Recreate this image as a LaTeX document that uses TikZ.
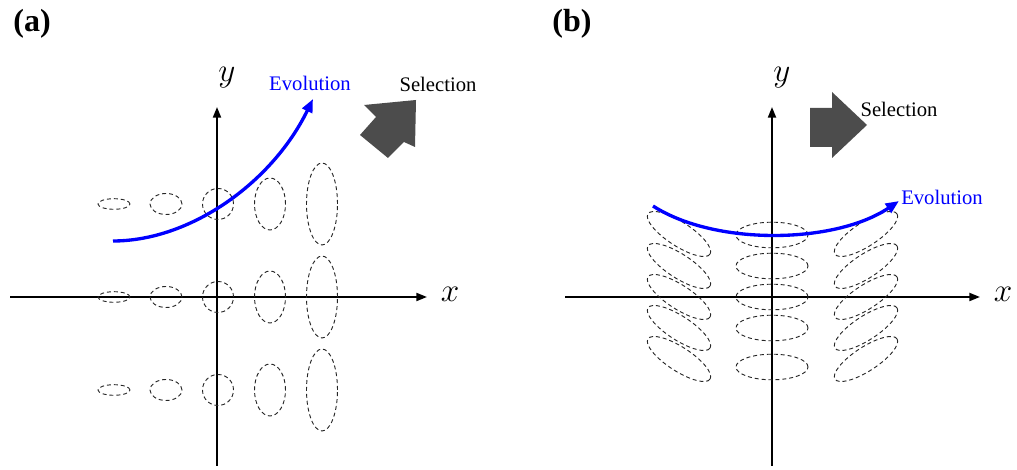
\documentclass[tikz,border=0pt]{standalone}
\usepackage{fontspec}
\setmainfont{Liberation Serif}
\usetikzlibrary{arrows.meta}
\begin{document}
\begin{tikzpicture}[x=0.75pt,y=0.75pt,
  axis/.style={line width=1.5pt,-{Triangle[length=8pt,width=6pt]}},
  ell/.style={draw=black!85,line width=0.7pt,dash pattern=on 3pt off 2.2pt},
  evo/.style={draw={rgb,255:red,0;green,0;blue,255},line width=2.5pt,-{Triangle[length=10pt,width=8pt]}},
  txt/.style={font=\fontsize{15.5}{18}\selectfont,inner sep=0pt},
  evotxt/.style={txt,text={rgb,255:red,0;green,0;blue,255}},
  mathlbl/.style={font=\fontsize{24.88}{30}\selectfont,inner sep=0pt},
  panel/.style={font=\fontsize{24}{28}\selectfont\bfseries,inner sep=0pt},
  sel/.style={fill=black!70,draw=none}]
\useasboundingbox (0,0) rectangle (1017,470);

% ---------- panel (a) ----------
\node[panel] (pa) at (32,446) {(a)};
\coordinate (axl) at (10,173);
\coordinate (axr) at (427,173);
\coordinate (ayb) at (217,4);
\coordinate (ayt) at (217,363);
\draw[axis] (axl) -- (axr);
\draw[axis] (ayb) -- (ayt);
\node[mathlbl] (xa) at (450,176) {$x$};
\node[mathlbl] (ya) at (227,392) {$y$};

\foreach \Y in {266,173,80} {
  \draw[ell] (114,\Y) ellipse [x radius=16, y radius=5.3];
  \draw[ell] (166,\Y) ellipse [x radius=16, y radius=10.5];
  \draw[ell] (218,\Y) ellipse [x radius=15.5, y radius=15.5];
  \draw[ell] (270,\Y) ellipse [x radius=15.5, y radius=26];
  \draw[ell] (322,\Y) ellipse [x radius=15.5, y radius=41];
}

\coordinate (ea0) at (113,229);
\coordinate (ea1) at (313,371);
\draw[evo] (ea0) .. controls (190,229) and (272,287) .. (ea1);
\node[evotxt] (eva) at (310,387) {Evolution};
\node[txt] (sela) at (438,386) {Selection};
\fill[sel] (416,370) -- (364,365) -- (376,353) -- (360,335) -- (388,312) -- (404,328) -- (415,323) -- cycle;

% ---------- panel (b) ----------
\node[panel] (pb) at (572,446) {(b)};
\coordinate (bxl) at (565,173);
\coordinate (bxr) at (980,173);
\coordinate (byb) at (772,4);
\coordinate (byt) at (772,363);
\draw[axis] (bxl) -- (bxr);
\draw[axis] (byb) -- (byt);
\node[mathlbl] (xb) at (1003,176) {$x$};
\node[mathlbl] (yb) at (782,392) {$y$};

\foreach \Y in {235,204,173,142,103} {
  \draw[ell] (772,\Y) ellipse [x radius=36, y radius=12.8];
}
\foreach \Y in {236,204,173,142,111} {
  \draw[ell,rotate around={-33:(679,\Y)}] (679,\Y) ellipse [x radius=37, y radius=12];
  \draw[ell,rotate around={33:(866,\Y)}] (866,\Y) ellipse [x radius=37, y radius=12];
}

\coordinate (eb0) at (653,264);
\coordinate (eb1) at (899,269);
\draw[evo] (eb0) .. controls (715,224) and (835,226) .. (eb1);
\node[evotxt] (evb) at (942,273) {Evolution};
\node[txt] (selb) at (899,361) {Selection};
\fill[sel] (810,362) -- (832,362) -- (832,378) -- (867,345) -- (832,312) -- (832,323) -- (810,323) -- cycle;
\end{tikzpicture}
\end{document}
